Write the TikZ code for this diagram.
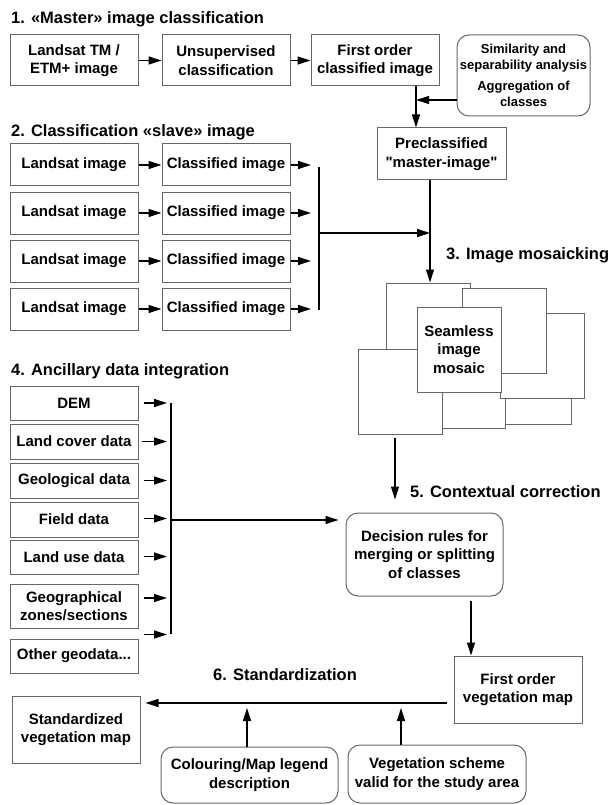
\documentclass[tikz,border=0pt]{standalone}
\usepackage{fontspec}
\setmainfont{Liberation Sans}[Ligatures=TeXOff]
\usetikzlibrary{arrows.meta}

\tikzset{
    box/.style={draw=black!60, line width=1pt, fill=white, align=center, inner sep=0pt,
        font=\bfseries\fontsize{15}{18.5}\selectfont},
    rbox/.style={box, rounded corners=12pt},
    sheet/.style={draw=black!60, line width=1pt, fill=white, inner sep=0pt,
        minimum width=84pt, minimum height=85pt},
    head/.style={anchor=west, inner sep=0pt, font=\bfseries\fontsize{16.5}{19}\selectfont},
    arr/.style={-{Triangle[length=13pt,width=8pt]}, line width=1.2pt},
    bar/.style={line width=1.5pt},
}

\begin{document}
\begin{tikzpicture}[x=1pt,y=-1pt]
\useasboundingbox (0,0) rectangle (608,805);
% 1. master image
    \node[head] (h1) at (11,19) {1. «Master» image classification};
    \node[box, minimum width=128pt, minimum height=51pt] (lstm) at (74,60.5) {Landsat TM /\\ETM+ image};
    \node[box, minimum width=128pt, minimum height=51pt] (unsup) at (226,60.5) {Unsupervised\\classification};
    \node[box, minimum width=128pt, minimum height=51pt] (fo) at (375,60.5) {First order\\classified image};
    \node[rbox, minimum width=133pt, minimum height=81pt, font=\bfseries\fontsize{13}{16}\selectfont] (sim) at (523.5,75.5)
        {Similarity and\\separability analysis\\[5pt]Aggregation of\\classes};
    \node[box, minimum width=129pt, minimum height=52pt] (pre) at (441.5,154) {Preclassified\\"master-image"};
    \draw[arr] (lstm) -- (unsup);
    \draw[arr] (unsup) -- (fo);
    \coordinate (j1) at (416,100);
    \draw[arr] (fo.south -| j1) -- (pre.north -| j1);
    \draw[arr] (sim.west |- j1) -- (j1);
% 2. slave images
    \node[head] (h2) at (11,132) {2. Classification «slave» image};
    \node[box, minimum width=128pt, minimum height=42pt] (ls1) at (74,165) {Landsat image};
    \node[box, minimum width=128pt, minimum height=42pt] (ls2) at (74,213) {Landsat image};
    \node[box, minimum width=128pt, minimum height=42pt] (ls3) at (74,261) {Landsat image};
    \node[box, minimum width=128pt, minimum height=42pt] (ls4) at (74,309) {Landsat image};
    \node[box, minimum width=128pt, minimum height=42pt] (cl1) at (226,165) {Classified image};
    \node[box, minimum width=128pt, minimum height=42pt] (cl2) at (226,213) {Classified image};
    \node[box, minimum width=128pt, minimum height=42pt] (cl3) at (226,261) {Classified image};
    \node[box, minimum width=128pt, minimum height=42pt] (cl4) at (226,309) {Classified image};
    \coordinate (b1) at (319,167);
    \coordinate (b1e) at (319,310);
    \draw[bar] (b1) -- (b1e);
    \draw[arr] (ls1) -- (cl1);
    \draw[arr] (ls2) -- (cl2);
    \draw[arr] (ls3) -- (cl3);
    \draw[arr] (ls4) -- (cl4);
    \draw[arr, shorten >=8pt] (cl1) -- (cl1 -| b1);
    \draw[arr, shorten >=8pt] (cl2) -- (cl2 -| b1);
    \draw[arr, shorten >=8pt] (cl3) -- (cl3 -| b1);
    \draw[arr, shorten >=8pt] (cl4) -- (cl4 -| b1);
    \coordinate (j2) at (430,233);
    \draw[arr] (b1 |- j2) -- (j2);
% 3. mosaic
    \node[head] (h3) at (446,255) {3. Image mosaicking};
    \node[sheet] (s1) at (428,325.5) {};
    \node[sheet] (s2) at (529,381.5) {};
    \node[sheet] (s3) at (463,385.5) {};
    \node[sheet] (s4) at (542,355.5) {};
    \node[sheet] (s5) at (504.5,330.5) {};
    \node[sheet] (s6) at (400.5,392) {};
    \node[box, minimum width=84pt, minimum height=85pt] (mos) at (459,349.5) {Seamless\\image\\mosaic};
    \draw[arr] (pre.south -| j2) -- (s1.north -| j2);
% 4. ancillary data
    \node[head] (h4) at (11,371) {4. Ancillary data integration};
    \node[box, minimum width=128pt, minimum height=34pt] (dem) at (74,403) {DEM};
    \node[box, minimum width=128pt, minimum height=35pt] (lcov) at (74,441.5) {Land cover data};
    \node[box, minimum width=128pt, minimum height=35pt] (geol) at (74,480.5) {Geological data};
    \node[box, minimum width=128pt, minimum height=35pt] (fld) at (74,519.5) {Field data};
    \node[box, minimum width=128pt, minimum height=34pt] (luse) at (74,557.5) {Land use data};
    \node[box, minimum width=128pt, minimum height=44pt] (geo) at (74,606) {Geographical\\zones/sections};
    \node[box, minimum width=128pt, minimum height=34pt] (oth) at (74,656) {Other geodata...};
    \coordinate (b2) at (171,403);
    \coordinate (b2e) at (171,634);
    \draw[bar] (b2) -- (b2e);
    \draw[arr, shorten <=5pt, shorten >=4pt] (dem) -- (dem -| b2);
    \draw[arr, shorten <=3pt, shorten >=4pt] (lcov) -- (lcov -| b2);
    \draw[arr, shorten <=5pt, shorten >=4pt] (geol) -- (geol -| b2);
    \draw[arr, shorten <=5pt, shorten >=4pt] ([yshift=1pt]fld.east) -- ([yshift=1pt]fld.east -| b2);
    \draw[arr, shorten <=5pt, shorten >=4pt] ([yshift=1pt]luse.east) -- ([yshift=1pt]luse.east -| b2);
    \draw[arr, shorten <=5pt, shorten >=4pt] ([yshift=8pt]geo.east) -- ([yshift=8pt]geo.east -| b2);
    \draw[arr, shorten <=5pt, shorten >=4pt] ([yshift=4pt]oth.north east) -- ([yshift=4pt]oth.north east -| b2);
% 5. contextual correction
    \node[head] (h5) at (410,492) {5. Contextual correction};
    \node[rbox, minimum width=157pt, minimum height=83pt] (dec) at (424.5,554.5) {Decision rules for\\merging or splitting\\of classes};
    \coordinate (j3) at (171,520);
    \draw[arr, shorten >=7pt] (j3) -- (j3 -| dec.west);
    \draw[arr, shorten <=3pt, shorten >=13pt] ([xshift=-5.5pt]s6.south) -- ([xshift=-5.5pt]s6.south |- dec.north);
% 6. standardization
    \node[box, minimum width=128pt, minimum height=67pt] (fvm) at (518,689.5) {First order\\vegetation map};
    \draw[arr, shorten <=4pt] ([xshift=46.5pt]dec.south) -- ([xshift=46.5pt]dec.south |- fvm.north);
    \node[head] (h6) at (213,675) {6. Standardization};
    \node[box, minimum width=128pt, minimum height=67pt] (std) at (76,729.5) {Standardized\\vegetation map};
    \node[rbox, minimum width=177pt, minimum height=56pt] (col) at (249.5,775) {Colouring/Map legend\\description};
    \node[rbox, minimum width=178pt, minimum height=58pt] (veg) at (437,774) {Vegetation scheme\\valid for the study area};
    \coordinate (j4) at (447,703);
    \draw[arr, shorten >=5pt] (j4) -- (j4 -| std.east);
    \draw[arr, shorten >=5pt] ([xshift=-2.5pt]col.north) -- ([xshift=-2.5pt]col.north |- j4);
    \draw[arr, shorten >=5pt] ([xshift=-36pt]veg.north) -- ([xshift=-36pt]veg.north |- j4);
\end{tikzpicture}
\end{document}
